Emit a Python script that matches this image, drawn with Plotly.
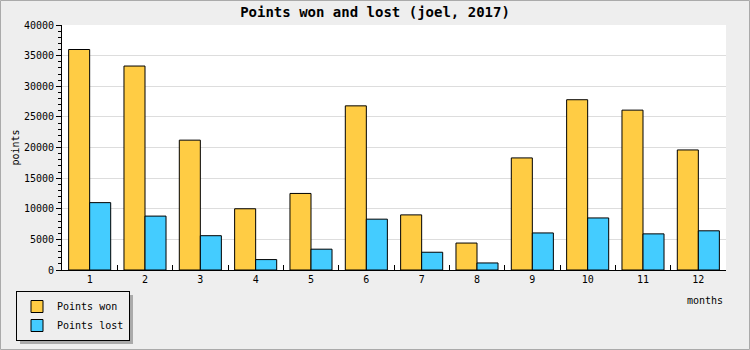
import plotly.graph_objects as go

months = ["1", "2", "3", "4", "5", "6", "7", "8", "9", "10", "11", "12"]
points_won = [36000, 33300, 21200, 10000, 12500, 26800, 9000, 4400, 18300, 27800, 26100, 19600]
points_lost = [11000, 8800, 5600, 1700, 3400, 8300, 2900, 1150, 6050, 8500, 5900, 6400]

FONT = "DejaVu Sans Mono"
W, H = 750, 350
ML, MR, MT, MB = 62, 24, 25, 80
PW = W - ML - MR
PH = H - MT - MB

def px_x(p):
    return (p - ML) / PW

def px_y(p):
    return (H - MB - p) / PH

fig = go.Figure()
fig.add_trace(go.Bar(x=months, y=points_won, name="Points won",
                     marker=dict(color="#ffcc44", line=dict(color="black", width=1))))
fig.add_trace(go.Bar(x=months, y=points_lost, name="Points lost",
                     marker=dict(color="#44ccff", line=dict(color="black", width=1))))

LEG_TOP = 291

fig.update_layout(
    width=W, height=H,
    margin=dict(l=ML, r=MR, t=MT, b=MB, autoexpand=False),
    paper_bgcolor="#eeeeee",
    plot_bgcolor="white",
    barmode="group",
    bargap=0.24,
    bargroupgap=0,
    font=dict(family=FONT, size=10, color="black"),
    title=dict(text="<b>Points won and lost (joel, 2017)</b>", x=0.5, xanchor="center",
               y=1 - 12 / H, yanchor="middle", font=dict(family=FONT, size=14, color="black")),
    showlegend=True,
    legend=dict(xref="container", yref="container", x=16 / W, y=1 - LEG_TOP / H,
                xanchor="left", yanchor="top", bgcolor="#eeeeee", bordercolor="black",
                borderwidth=1, font=dict(family=FONT, size=10), tracegroupgap=0,
                itemwidth=30),
    xaxis=dict(type="category", showgrid=False, showline=True, linecolor="black", linewidth=1,
               ticks="inside", ticklen=5, tickcolor="black", tickson="boundaries",
               tickfont=dict(family=FONT, size=10), zeroline=False),
    yaxis=dict(range=[0, 40000], dtick=5000, tickformat="d", showgrid=True, gridcolor="#dddddd",
               gridwidth=1, showline=True, linecolor="black", linewidth=1, ticks="outside",
               ticklen=5, tickcolor="black", zeroline=False, tickfont=dict(family=FONT, size=10),
               minor=dict(dtick=1000, ticks="outside", ticklen=3, tickcolor="black", showgrid=False)),
    annotations=[
        dict(text="points", xref="paper", yref="paper", x=px_x(15), y=0.5, textangle=-90,
             showarrow=False, xanchor="center", yanchor="middle", font=dict(family=FONT, size=10)),
        dict(text="months", xref="paper", yref="paper", x=px_x(725), y=px_y(300),
             showarrow=False, xanchor="right", yanchor="middle", font=dict(family=FONT, size=10)),
    ],
    shapes=[
        dict(type="rect", xref="paper", yref="paper", x0=px_x(20), x1=px_x(133),
             y0=px_y(LEG_TOP + 53), y1=px_y(LEG_TOP + 4), fillcolor="#aaaaaa",
             line=dict(width=0), layer="below"),
        dict(type="rect", xref="paper", yref="paper", x0=px_x(0.5), x1=px_x(W - 0.5),
             y0=px_y(H - 0.5), y1=px_y(0.5), fillcolor="rgba(0,0,0,0)",
             line=dict(color="#aaaaaa", width=1), layer="above"),
    ],
)

fig.write_html("out.html")
